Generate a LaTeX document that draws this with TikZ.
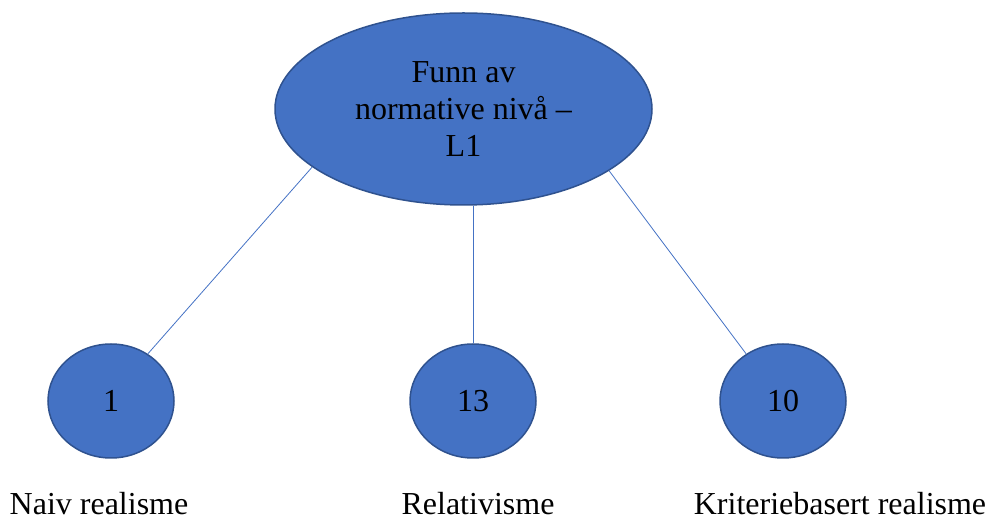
\documentclass[tikz,border=0pt]{standalone}
\usepackage{fontspec}
\setmainfont{Liberation Serif}
\usetikzlibrary{shapes.geometric, positioning}
\definecolor{NodeBlue}{RGB}{68, 114, 196}
\definecolor{RimBlue}{RGB}{47, 82, 143}

\begin{document}
\begin{tikzpicture}[x=1pt, y=1pt,
      level/.style={ellipse, draw=RimBlue, fill=NodeBlue, line width=1.5pt, inner sep=0pt,
      text=black, align=center, font=\fontsize{32}{37}\selectfont},
      count/.style={level, minimum width=126pt, minimum height=114pt},
      caption/.style={anchor=base, inner sep=0pt, font=\fontsize{32}{37}\selectfont},
      link/.style={draw=NodeBlue, line width=0.8pt}
    ]
      \useasboundingbox (0,0) rectangle (989,519);
      \node[level, minimum width=377pt, minimum height=192pt] (root) at (463.5,410) {Funn av\\normative nivå --\\L1};
      \node[count] (naiv) at (111,118) {1};
      \node[count] (rel) at (473,118) {13};
      \node[count] (krit) at (783,118) {10};

      \node[caption] (naivlbl) at (99,4) {Naiv realisme};
      \node[caption] (rellbl) at (478,4) {Relativisme};
      \node[caption] (kritlbl) at (840,4) {Kriteriebasert realisme};

      \draw[link] (root.201) -- (naiv.52);
      \draw[link] (root.south -| rel.north) -- (rel.north);
      \draw[link] (root.337) -- (krit.128);
    \end{tikzpicture}
\end{document}
